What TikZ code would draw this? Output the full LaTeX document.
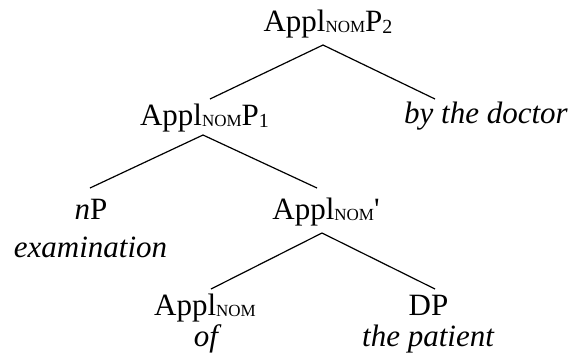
\documentclass[tikz,border=0pt]{standalone}
\usepackage{fontspec}
\setmainfont{Liberation Serif}
\newcommand\nomsc{\raisebox{-1.5pt}{\fontsize{17}{17}\selectfont NOM}}
\newcommand\lowdig[1]{\raisebox{-2.5pt}{\fontsize{20}{20}\selectfont #1}}
\newcommand\straightq{{\XeTeXglyph\XeTeXglyphindex "quotesingle"\relax}}
\begin{document}
\begin{tikzpicture}[x=1pt,y=-1pt,
  lab/.style={anchor=base,inner sep=0pt,font=\fontsize{31}{36}\selectfont},
  gloss/.style={anchor=base,inner sep=0pt,font=\fontsize{31}{36}\selectfont\itshape},
  edge/.style={line width=1.2pt}]
\useasboundingbox (0,0) rectangle (573,360);
\node[lab] (P2) at (328,31) {Appl\nomsc P\lowdig{2}};
\node[lab] (P1) at (204.5,125) {Appl\nomsc P\lowdig{1}};
\node[gloss] (bydoc) at (486,123) {by the doctor};
\node[lab] (nP) at (91,219) {\textit{n}P};
\node[gloss] (exam) at (90.5,257) {examination};
\node[lab] (Abar) at (326,219) {Appl\nomsc\straightq};
\node[lab] (Ahead) at (205,315) {Appl\nomsc};
\node[gloss] (of) at (206,346) {of};
\node[lab] (DP) at (428.5,315) {DP};
\node[gloss] (patient) at (428,346) {the patient};
\draw[edge] ([shift={(-5,14)}]P2.base) -- ([shift={(5.5,-26)}]P1.base);
\draw[edge] ([shift={(-5,14)}]P2.base) -- ([shift={(-51,-24)}]bydoc.base);
\draw[edge] ([shift={(-1.5,10)}]P1.base) -- ([shift={(-1,-31)}]nP.base);
\draw[edge] ([shift={(-1.5,10)}]P1.base) -- ([shift={(-9,-31)}]Abar.base);
\draw[edge] ([shift={(-4,14)}]Abar.base) -- ([shift={(6,-26)}]Ahead.base);
\draw[edge] ([shift={(-4,14)}]Abar.base) -- ([shift={(6.5,-26)}]DP.base);
\end{tikzpicture}
\end{document}
